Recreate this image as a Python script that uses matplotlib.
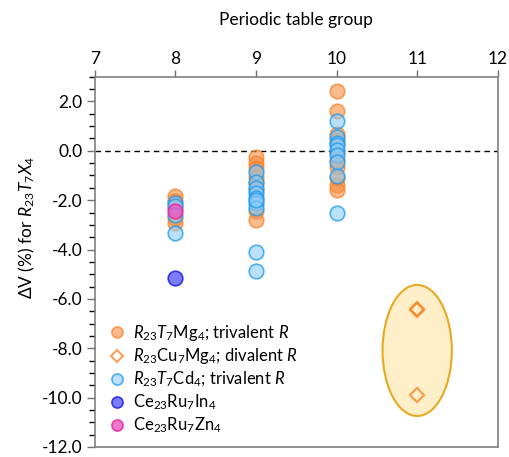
import matplotlib
matplotlib.use("Agg")
import matplotlib.pyplot as plt
from matplotlib.patches import Ellipse
from matplotlib.ticker import MultipleLocator, FormatStrFormatter

plt.rcParams['font.family'] = ['Lato', 'DejaVu Sans']
plt.rcParams['mathtext.fontset'] = 'custom'
plt.rcParams['mathtext.rm'] = 'Lato'
plt.rcParams['mathtext.it'] = 'Lato:italic'
plt.rcParams['mathtext.bf'] = 'Lato:bold'

# Data
mg_tri_group = [8]*5 + [9]*8 + [10]*10
mg_tri_dv = [-1.85, -2.05, -2.3, -2.72, -2.93,
             -0.27, -0.51, -0.71, -1.05, -1.32, -1.6, -2.45, -2.8,
             2.44, 1.61, 0.70, 0.43, -0.05, -0.38, -0.64, -1.11, -1.38, -1.58]
cu_div_group = [11, 11, 11]
cu_div_dv = [-6.40, -6.46, -9.90]
cd_tri_group = [8]*4 + [9]*10 + [10]*9
cd_tri_dv = [-2.12, -2.25, -2.6, -3.33,
             -0.85, -1.25, -1.52, -1.72, -1.92, -2.12, -2.32, -2.0, -4.09, -4.88,
             1.21, 0.56, 0.33, 0.23, 0.02, -0.18, -0.45, -1.01, -2.52]
in_group = [8]
in_dv = [-5.14]
zn_group = [8]
zn_dv = [-2.45]
xticks = [7, 8, 9, 10, 11, 12]

fig = plt.figure(figsize=(5.10, 4.57), dpi=100)
ax = fig.add_axes([0.186, 0.022, 0.790, 0.810])

ax.set_xlim(7, 12)
ax.set_ylim(-12, 3)

ell = Ellipse((11.0, -8.09), 0.86, 5.31, facecolor='#FFEFC8', edgecolor='#E8A820',
              linewidth=1.5, zorder=1)
ax.add_patch(ell)

ax.axhline(0, color='black', linestyle=(0, (4, 3)), linewidth=1.0, zorder=2)

ms = 10.5
ax.plot(mg_tri_group, mg_tri_dv, 'o', ms=ms, mfc=(0.96, 0.55, 0.25, 0.6),
        mec=(0.97, 0.50, 0.13, 0.7), mew=1.2, ls='none', zorder=3,
        label=r'$R_{23}T_{7}$Mg$_{4}$; trivalent $R$')
ax.plot(cu_div_group, cu_div_dv, 'D', ms=7.5, mfc='none',
        mec=(0.97, 0.50, 0.13, 0.75), mew=1.5, ls='none', zorder=3,
        label=r'$R_{23}$Cu$_{7}$Mg$_{4}$; divalent $R$')
ax.plot(cd_tri_group, cd_tri_dv, 'o', ms=ms, mfc=(0.55, 0.80, 0.97, 0.6),
        mec=(0.10, 0.60, 0.95, 0.75), mew=1.2, ls='none', zorder=4,
        label=r'$R_{23}T_{7}$Cd$_{4}$; trivalent $R$')
ax.plot(in_group, in_dv, 'o', ms=ms, mfc=(0.40, 0.40, 0.98, 0.85),
        mec=(0.15, 0.15, 0.90, 0.9), mew=1.2, ls='none', zorder=5,
        label=r'Ce$_{23}$Ru$_{7}$In$_{4}$')
ax.plot(zn_group, zn_dv, 'o', ms=ms, mfc=(0.94, 0.35, 0.75, 0.8),
        mec=(0.90, 0.15, 0.65, 0.85), mew=1.2, ls='none', zorder=5,
        label=r'Ce$_{23}$Ru$_{7}$Zn$_{4}$')

ax.xaxis.tick_top()
ax.xaxis.set_label_position('top')
ax.set_xticks(xticks)
ax.set_xticklabels([str(t) for t in xticks])
ax.set_xlabel('Periodic table group', fontsize=12.5, labelpad=19)

ax.yaxis.set_major_locator(MultipleLocator(2))
ax.yaxis.set_minor_locator(MultipleLocator(0.5))
ax.yaxis.set_major_formatter(FormatStrFormatter('%.1f'))
ax.set_yticks([-12, -10, -8, -6, -4, -2, 0, 2])
ax.set_ylabel(r'$\Delta$V (%) for $R_{23}T_{7}X_{4}$', fontsize=12.5)
ax.yaxis.set_label_coords(-0.143, 0.593)

ax.tick_params(axis='both', labelsize=12.5, color='#707070', direction='out')
ax.tick_params(axis='x', length=5, width=1, pad=2)
ax.tick_params(axis='y', which='major', length=6, width=1, pad=3)
ax.tick_params(axis='y', which='minor', length=4, width=1)
ax.tick_params(axis='y', right=False)

for s in ax.spines.values():
    s.set_color('#808080')
    s.set_linewidth(1.2)

leg = ax.legend(loc='lower left', bbox_to_anchor=(0.0, 0.0), frameon=False,
                fontsize=12, handletextpad=0.4, labelspacing=0.2,
                handlelength=1.2, borderaxespad=0.3, markerscale=0.76)

fig.savefig('out.png', dpi=100)
